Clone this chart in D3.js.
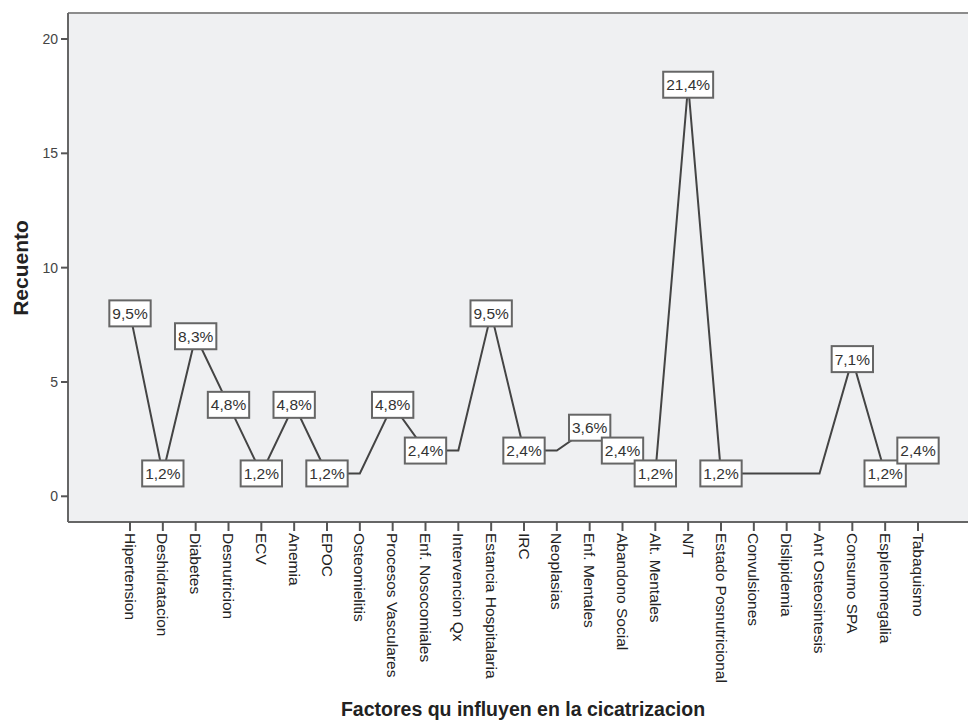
<!doctype html>
<html>
<head>
<meta charset="utf-8">
<script src="https://d3js.org/d3.v7.min.js"></script>
<style>
  body { margin: 0; background: #fff; }
  text { font-family: "Liberation Sans", Arial, sans-serif; }
</style>
</head>
<body>
<div id="chart"></div>
<script>
// categories along the x axis
var categories = ["Hipertension", "Deshidratacion", "Diabetes", "Desnutricion", "ECV",
  "Anemia", "EPOC", "Osteomielitis", "Procesos Vasculares", "Enf. Nosocomiales",
  "Intervencion Qx", "Estancia Hospitalaria", "IRC", "Neoplasias", "Enf. Mentales",
  "Abandono Social", "Alt. Mentales", "N/T", "Estado Posnutricional", "Convulsiones",
  "Dislipidemia", "Ant Osteosintesis", "Consumo SPA", "Esplenomegalia", "Tabaquismo"];

// count per category
var counts = [8, 1, 7, 4, 1, 4, 1, 1, 4, 2, 2, 8, 2, 2, 3, 2, 1, 18, 1, 1, 1, 1, 6, 1, 2];

// points that carry a percent label in the original
var labeled = ["Hipertension", "Deshidratacion", "Diabetes", "Desnutricion", "ECV",
  "Anemia", "EPOC", "Procesos Vasculares", "Enf. Nosocomiales", "Estancia Hospitalaria",
  "IRC", "Enf. Mentales", "Abandono Social", "Alt. Mentales", "N/T",
  "Estado Posnutricional", "Consumo SPA", "Esplenomegalia", "Tabaquismo"];

var yTicks = [0, 5, 10, 15, 20];

var W = 968, H = 722;
var frame = {left: 68, right: 970, top: 13, bottom: 522};

var svg = d3.select("#chart").append("svg")
    .attr("width", W)
    .attr("height", H);

var x = d3.scalePoint()
    .domain(categories)
    .range([130, 918]);

var y = d3.scaleLinear()
    .domain([0, 20])
    .range([496.3, 39]);

var total = d3.sum(counts);
var data = categories.map(function(c, i) {
    return {cat: c, n: counts[i]};
});

// plot background
svg.append("rect")
    .attr("x", frame.left)
    .attr("y", frame.top)
    .attr("width", frame.right - frame.left)
    .attr("height", frame.bottom - frame.top)
    .attr("fill", "#eff0f2");

// top border
svg.append("line")
    .attr("x1", frame.left).attr("x2", frame.right)
    .attr("y1", frame.top).attr("y2", frame.top)
    .attr("stroke", "#8c8c8c")
    .attr("stroke-width", 2);

// y axis
var yAxis = svg.append("g")
    .attr("transform", "translate(" + frame.left + ",0)");
yAxis.append("line")
    .attr("y1", frame.top).attr("y2", frame.bottom)
    .attr("stroke", "#666").attr("stroke-width", 2);
yAxis.selectAll(".tick")
    .data(yTicks)
    .enter().append("line")
    .attr("x1", -7).attr("x2", 0)
    .attr("y1", function(d) { return y(d); })
    .attr("y2", function(d) { return y(d); })
    .attr("stroke", "#555").attr("stroke-width", 2);
yAxis.selectAll(".lab")
    .data(yTicks)
    .enter().append("text")
    .attr("x", -10)
    .attr("y", function(d) { return y(d); })
    .attr("dy", "0.36em")
    .attr("text-anchor", "end")
    .attr("font-size", 14)
    .attr("fill", "#444")
    .text(function(d) { return d; });

// x axis
var xAxis = svg.append("g")
    .attr("transform", "translate(0," + frame.bottom + ")");
xAxis.append("line")
    .attr("x1", frame.left).attr("x2", frame.right)
    .attr("stroke", "#666").attr("stroke-width", 2);
xAxis.selectAll(".tick")
    .data(categories)
    .enter().append("line")
    .attr("x1", function(d) { return x(d); })
    .attr("x2", function(d) { return x(d); })
    .attr("y1", 0).attr("y2", 9)
    .attr("stroke", "#555").attr("stroke-width", 2);
xAxis.selectAll(".lab")
    .data(categories)
    .enter().append("text")
    .attr("transform", function(d) { return "translate(" + x(d) + ",11) rotate(90)"; })
    .attr("dy", "0.35em")
    .attr("text-anchor", "start")
    .attr("font-size", 15.5)
    .attr("fill", "#222")
    .text(function(d) { return d; });

// line
var line = d3.line()
    .x(function(d) { return x(d.cat); })
    .y(function(d) { return y(d.n); });

svg.append("path")
    .datum(data)
    .attr("d", line)
    .attr("fill", "none")
    .attr("stroke", "#444")
    .attr("stroke-width", 2);

// percent labels, box sized on its text
var labels = svg.selectAll(".plab")
    .data(data.filter(function(d) { return labeled.indexOf(d.cat) >= 0; }))
    .enter().append("g")
    .attr("transform", function(d) { return "translate(" + x(d.cat) + "," + y(d.n) + ")"; });

var boxes = labels.append("rect")
    .attr("y", -13)
    .attr("height", 26)
    .attr("fill", "#fff")
    .attr("stroke", "#666")
    .attr("stroke-width", 2);

labels.append("text")
    .attr("text-anchor", "middle")
    .attr("dy", "0.36em")
    .attr("font-size", 15.5)
    .attr("fill", "#333")
    .text(function(d) { return (d.n / total * 100).toFixed(1).replace(".", ",") + "%"; })
    .each(function() {
        var w = this.getComputedTextLength() + 6;
        d3.select(this.parentNode).select("rect")
            .attr("x", -w / 2)
            .attr("width", w);
    });

// labels of the axes
svg.append("text")
    .attr("transform", "translate(28,268) rotate(-90)")
    .attr("text-anchor", "middle")
    .attr("font-size", 21)
    .attr("font-weight", "bold")
    .attr("fill", "#222")
    .text("Recuento");

svg.append("text")
    .attr("x", 523)
    .attr("y", 716)
    .attr("text-anchor", "middle")
    .attr("font-size", 19.5)
    .attr("font-weight", "bold")
    .attr("fill", "#222")
    .text("Factores qu influyen en la cicatrizacion");
</script>
</body>
</html>
